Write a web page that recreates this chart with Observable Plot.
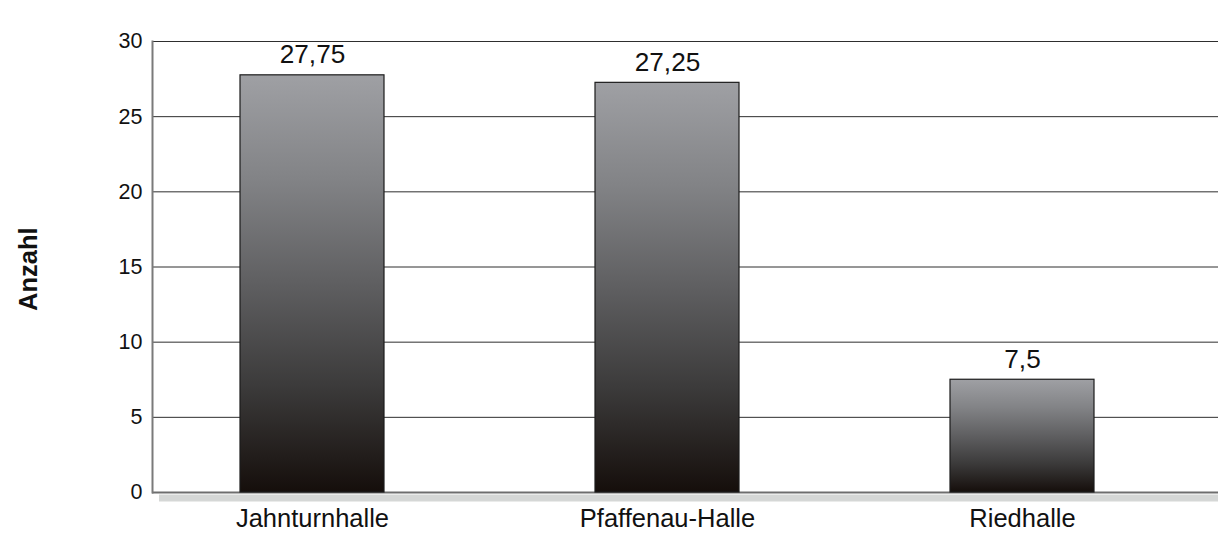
<!DOCTYPE html>
<html>
<head>
<meta charset="utf-8">
<script src="https://cdn.jsdelivr.net/npm/d3@7"></script>
<script src="https://cdn.jsdelivr.net/npm/@observablehq/plot@0.6"></script>
<style>
  html, body { margin: 0; padding: 0; background: #fff; }
  #chart svg { display: block; }
</style>
</head>
<body>
<div id="chart"></div>
<script>
// Halls and their counts
const halls = ["Jahnturnhalle", "Pfaffenau-Halle", "Riedhalle"];
const counts = [27.75, 27.25, 7.5];
const yTicks = [0, 5, 10, 15, 20, 25, 30];
const yLabel = "Anzahl";

const rows = halls.map((hall, i) => ({hall, count: counts[i]}));
const fmt = v => String(v).replace(".", ",");

const font = "'Liberation Sans', Arial, Helvetica, sans-serif";

const chart = Plot.plot({
  width: 1218,
  height: 535,
  marginTop: 41,
  marginBottom: 43,
  marginLeft: 152,
  marginRight: 0,
  style: {fontFamily: font, fontSize: "21.5px", color: "#111", background: "#fff"},
  x: {domain: halls, paddingInner: 0.595, paddingOuter: 0.2975, align: 0.416, label: null},
  y: {domain: [0, 30], ticks: yTicks, label: null},
  marks: [
    // horizontal grid
    Plot.ruleY(yTicks.filter(t => t > 0), {stroke: "#2e2e2e", strokeWidth: 1}),
    // floor shadow under the baseline
    Plot.ruleY([0], {stroke: "#d5d7d6", strokeWidth: 7, dy: 5.5, dx: 7}),
    // baseline and left axis line
    Plot.ruleY([0], {stroke: "#6e6e6e", strokeWidth: 2}),
    Plot.frame({anchor: "left", stroke: "#7a7a7a", strokeWidth: 2}),
    Plot.axisY({ticks: yTicks, tickSize: 0, tickPadding: 10, fontSize: 21.5}),
    Plot.axisX({tickSize: 0, tickPadding: 16, fontSize: 25.5}),
    Plot.barY(rows, {x: "hall", y: "count", fill: "url(#barShade)", stroke: "#1c1c1c", strokeWidth: 1.2}),
    Plot.text(rows, {x: "hall", y: "count", text: d => fmt(d.count), lineAnchor: "bottom", dy: -12, fontSize: 26.2, fill: "#111"}),
    Plot.text([yLabel], {frameAnchor: "left", dx: -124, dy: 44, rotate: -90, fontSize: 25.5, fontWeight: "bold", fill: "#111"})
  ]
});

// vertical grey-to-black shading used by the bars
const svg = d3.select(chart);
const grad = svg.insert("defs", ":first-child")
  .append("linearGradient")
  .attr("id", "barShade")
  .attr("x1", 0).attr("y1", 0).attr("x2", 0).attr("y2", 1);
[[0, "#9fa0a4"], [0.25, "#828386"], [0.5, "#5f5f61"], [0.75, "#3b3a3a"], [1, "#150e0b"]]
  .forEach(([o, c]) => grad.append("stop").attr("offset", o).attr("stop-color", c));

document.getElementById("chart").appendChild(chart);
</script>
</body>
</html>
